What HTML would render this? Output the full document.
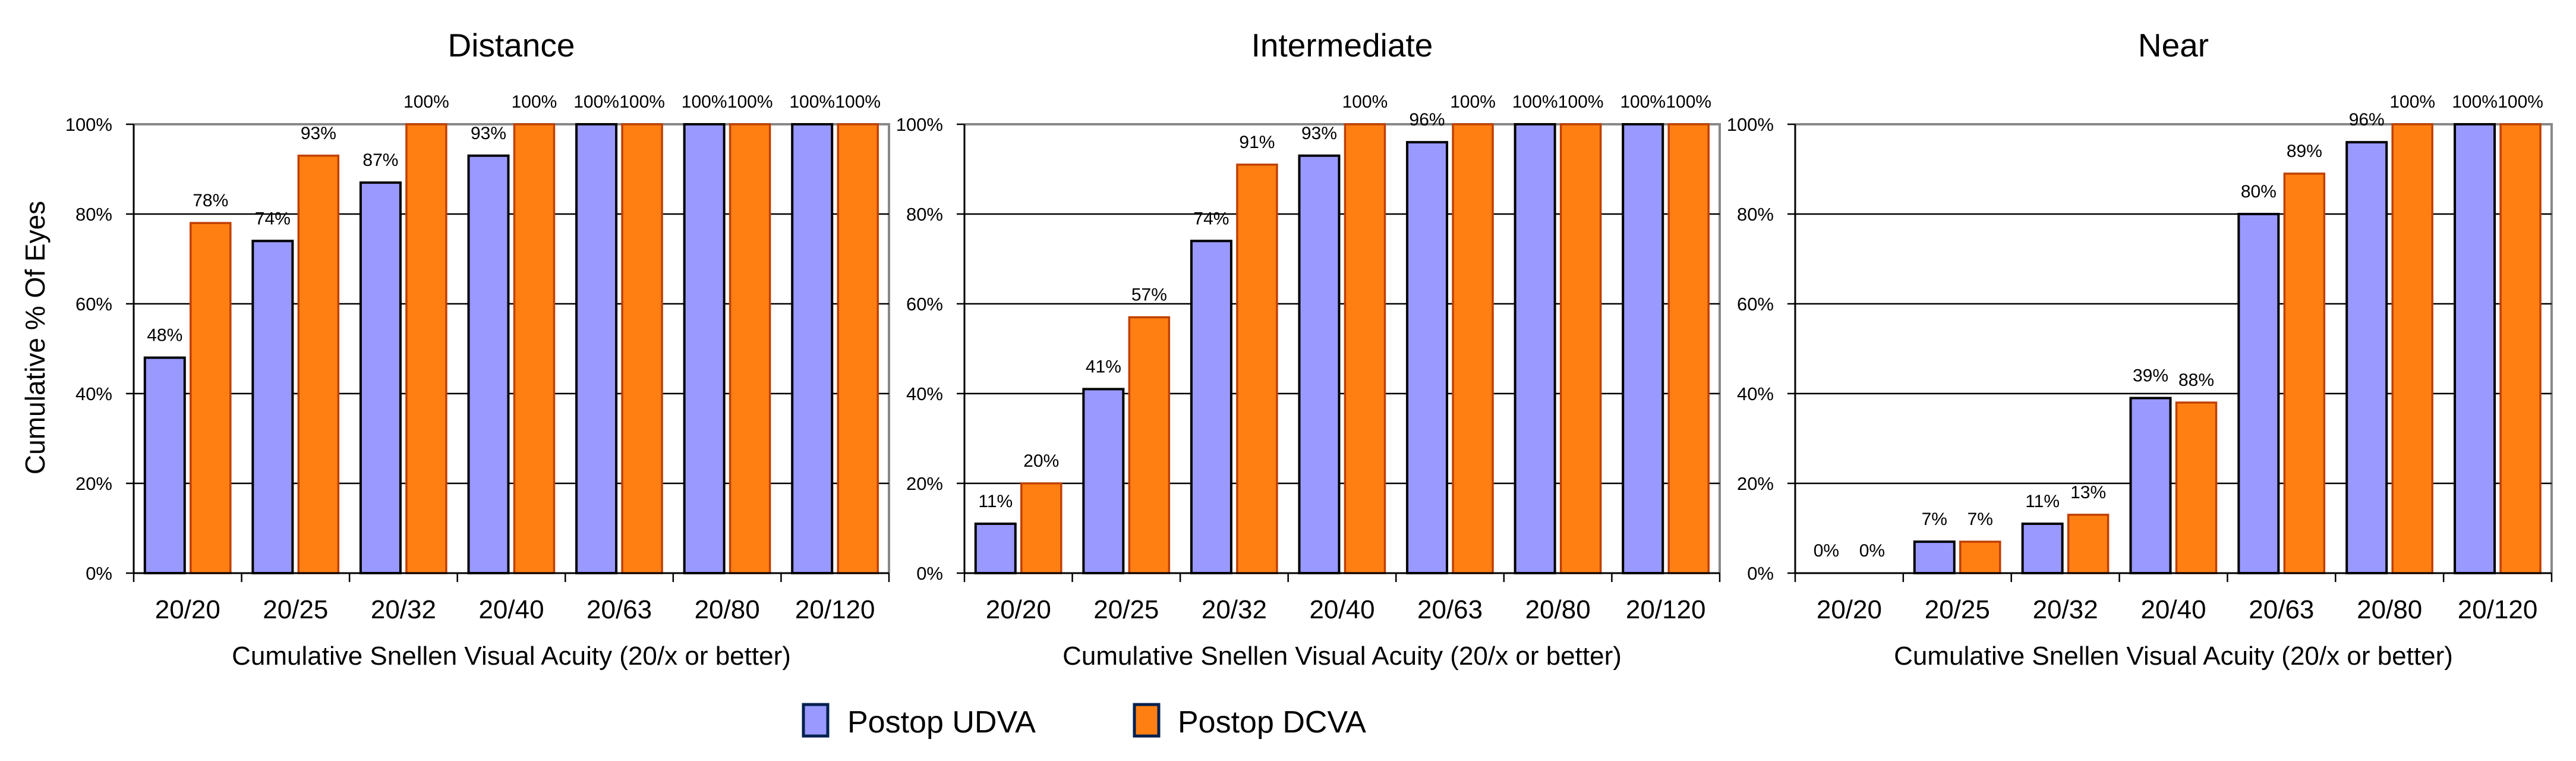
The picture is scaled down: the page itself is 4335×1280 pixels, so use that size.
<!DOCTYPE html>
<html><head><meta charset="utf-8"><style>
html,body{margin:0;padding:0;background:#fff;}
svg{display:block;}
text{font-family:"Liberation Sans",sans-serif;fill:#000;}
</style></head><body>
<svg id="chart" width="4335" height="1280" viewBox="0 0 4335 1280" xmlns="http://www.w3.org/2000/svg">
  <g id="legend">
    <g>
      <rect x="1352" y="1185" width="41" height="53" fill="#9999ff" stroke="#00204f" stroke-width="5"/>
      <text x="1426" y="1232" font-size="52">Postop UDVA</text>
    </g>
    <g>
      <rect x="1909" y="1185" width="41" height="53" fill="#ff7f13" stroke="#00204f" stroke-width="5"/>
      <text x="1982" y="1232" font-size="52">Postop DCVA</text>
    </g>
  </g>
</svg>
<script>
const categories = ["20/20","20/25","20/32","20/40","20/63","20/80","20/120"];
const yTicks = [0,20,40,60,80,100];
const yTickLabels = ["0%","20%","40%","60%","80%","100%"];
const distanceUdva = [48,74,87,93,100,100,100];
const distanceDcva = [78,93,100,100,100,100,100];
const intermediateUdva = [11,41,74,93,96,100,100];
const intermediateDcva = [20,57,91,100,100,100,100];
const nearUdva = [0,7,11,39,80,96,100];
const nearDcva = [0,7,13,38,89,100,100];
const distanceUdvaLabels = ["48%","74%","87%","93%","100%","100%","100%"];
const distanceDcvaLabels = ["78%","93%","100%","100%","100%","100%","100%"];
const intermediateUdvaLabels = ["11%","41%","74%","93%","96%","100%","100%"];
const intermediateDcvaLabels = ["20%","57%","91%","100%","100%","100%","100%"];
const nearUdvaLabels = ["0%","7%","11%","39%","80%","96%","100%"];
const nearDcvaLabels = ["0%","7%","13%","88%","89%","100%","100%"];
const panelTitles = ["Distance","Intermediate","Near"];

const NS = "http://www.w3.org/2000/svg";
const svg = document.getElementById('chart');
function mk(tag, attrs, parent){
  const e = document.createElementNS(NS, tag);
  for (const k in attrs) e.setAttribute(k, attrs[k]);
  parent.appendChild(e);
  return e;
}
const panels = [
  {left:225, right:1496, udva:distanceUdva, dcva:distanceDcva, ul:distanceUdvaLabels, dl:distanceDcvaLabels, yTitle:true},
  {left:1623, right:2894, udva:intermediateUdva, dcva:intermediateDcva, ul:intermediateUdvaLabels, dl:intermediateDcvaLabels},
  {left:3021, right:4294, udva:nearUdva, dcva:nearDcva, ul:nearUdvaLabels, dl:nearDcvaLabels}
];
const plotTop = 209, plotBottom = 964;
panels.forEach((p, pi) => {
  const g = mk('g', {}, svg);
  
  
  const y = v => plotBottom - (v/100)*(plotBottom-plotTop);
  const gw = (p.right - p.left)/categories.length;
  const cx = i => p.left + gw*(i+0.5);
  const t = mk('text', {x:(p.left+p.right)/2, y:95, 'font-size':55, 'text-anchor':'middle'}, g);
  
  
  t.textContent = panelTitles[pi];
  const border = mk('path', {d:`M${p.left} ${plotTop}H${p.right}V${plotBottom}`, fill:'none', stroke:'#888', 'stroke-width':4}, g);
  
  
  yTicks.forEach((v, i) => {
    if (v > 0 && v < 100) {
      const gl = mk('line', {x1:p.left, x2:p.right, y1:y(v), y2:y(v), stroke:'#000', 'stroke-width':2.5}, g);
      
      
    }
    mk('line', {x1:p.left-13, x2:p.left, y1:y(v), y2:y(v), stroke:'#000', 'stroke-width':2.5}, g);
    const tl = mk('text', {x:p.left-36, y:y(v)+11, 'font-size':31, 'text-anchor':'end'}, g);
    
    
    tl.textContent = yTickLabels[i];
  });
  const bw = 67, gap = 10;
  categories.forEach((c, i) => {
    const bx = cx(i) - gap/2 - bw;
    const ox = cx(i) + gap/2;
    if (p.udva[i] > 0) {
      const b = mk('rect', {x:bx, y:y(p.udva[i]), width:bw, height:plotBottom-y(p.udva[i]), fill:'#9999ff', stroke:'#000', 'stroke-width':4}, g);
      
      
    }
    if (p.dcva[i] > 0) {
      const b2 = mk('rect', {x:ox, y:y(p.dcva[i]), width:bw, height:plotBottom-y(p.dcva[i]), fill:'#ff7f13', stroke:'#c04000', 'stroke-width':3.5}, g);
      
      
    }
    const l1 = mk('text', {x:bx+bw/2, y:y(p.udva[i])-28, 'font-size':30, 'text-anchor':'middle'}, g);
    
    
    l1.textContent = p.ul[i];
    const l2 = mk('text', {x:ox+bw/2, y:y(p.dcva[i])-28, 'font-size':30, 'text-anchor':'middle'}, g);
    
    
    l2.textContent = p.dl[i];
    const cl = mk('text', {x:cx(i), y:1040, 'font-size':44, 'text-anchor':'middle'}, g);
    
    
    cl.textContent = c;
  });
  for (let i = 0; i <= categories.length; i++) {
    mk('line', {x1:p.left+gw*i, x2:p.left+gw*i, y1:plotBottom, y2:plotBottom+15, stroke:'#000', 'stroke-width':2.5}, g);
  }
  const ya = mk('line', {x1:p.left, x2:p.left, y1:plotTop, y2:plotBottom, stroke:'#000', 'stroke-width':3}, g);
  
  
  const xa = mk('line', {x1:p.left, x2:p.right, y1:plotBottom, y2:plotBottom, stroke:'#000', 'stroke-width':3}, g);
  
  
  const xt = mk('text', {x:(p.left+p.right)/2, y:1118, 'font-size':44, 'text-anchor':'middle'}, g);
  
  
  xt.textContent = 'Cumulative Snellen Visual Acuity (20/x or better)';
  if (p.yTitle) {
    const yt = mk('text', {x:0, y:0, 'font-size':46, 'text-anchor':'middle', transform:`translate(75,568) rotate(-90)`}, g);
    
    
    yt.textContent = 'Cumulative % Of Eyes';
  }
});
</script>
</body></html>
